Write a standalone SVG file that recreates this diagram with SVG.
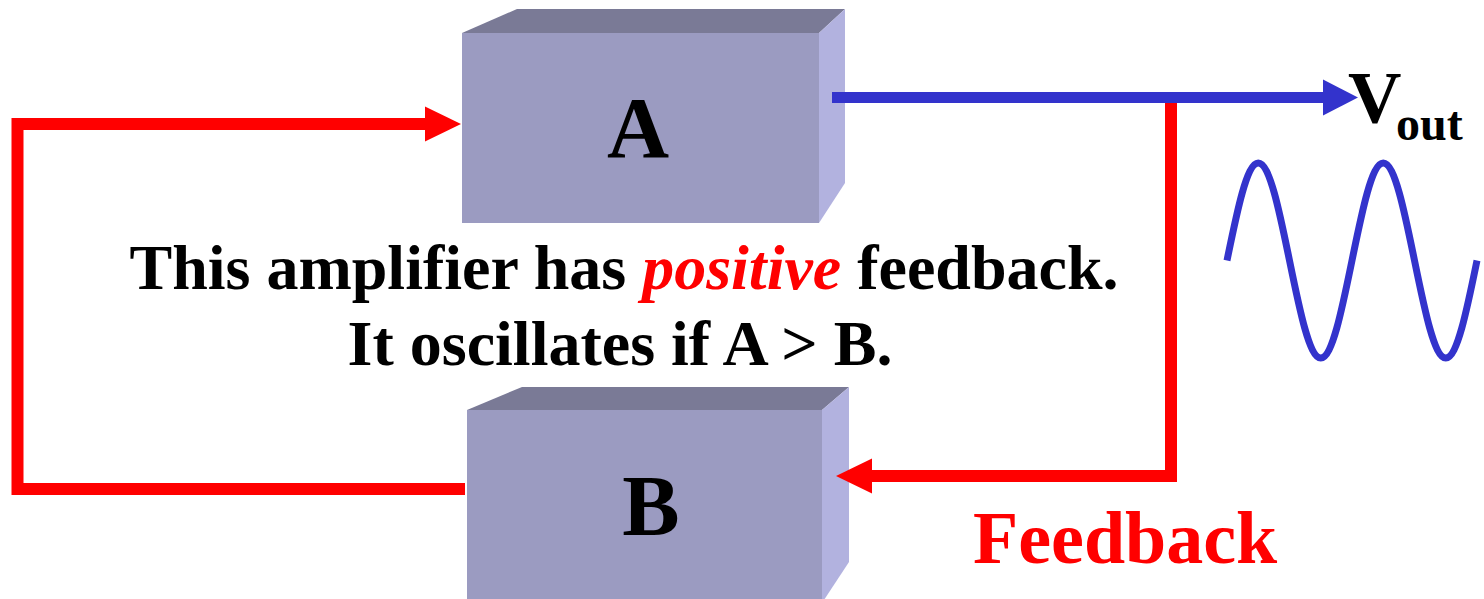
<svg xmlns="http://www.w3.org/2000/svg" width="1484" height="599" viewBox="0 0 1484 599">
<style>
.front{fill:#9B9BC1}
.top{fill:#7A7A96}
.side{fill:#B2B2DF}
.lbl{font-family:"Liberation Serif","Times New Roman",serif;font-weight:bold}
.red{stroke:#FF0000;stroke-width:12;fill:none}
.blue{stroke:#3333CC;stroke-width:11;fill:none}
</style>
<defs>
<marker id="ahr" markerUnits="userSpaceOnUse" markerWidth="36" markerHeight="36" refX="0" refY="17.5" orient="auto" overflow="visible">
<path d="M0,0 L36,17.5 L0,35 z" fill="#FF0000"/>
</marker>
<marker id="ahb" markerUnits="userSpaceOnUse" markerWidth="36" markerHeight="36" refX="0" refY="18" orient="auto" overflow="visible">
<path d="M0,0 L35,18 L0,36 z" fill="#3333CC"/>
</marker>
</defs>
<rect width="1484" height="599" fill="#FFFFFF"/>
<g id="nodeA">
<polygon class="top" points="462,33 517,9 845,9 819,33"/>
<polygon class="side" points="819,33 845,9 845,183 819,223"/>
<rect class="front" x="462" y="33" width="357" height="190"/>
<text class="lbl" x="638" y="157" font-size="86" text-anchor="middle">A</text>
</g>
<g id="nodeB">
<polygon class="top" points="467,410 522,387 849,387 822,410"/>
<polygon class="side" points="822,410 849,387 849,562 822,603"/>
<rect class="front" x="467" y="410" width="355" height="195"/>
<text class="lbl" x="651" y="535" font-size="86" text-anchor="middle">B</text>
</g>
<g id="connectors">
<path class="red" d="M465,489 H17.5 V124 H425" marker-end="url(#ahr)"/>
<path class="red" d="M1171,97 V476 H872" marker-end="url(#ahr)"/>
<path class="blue" d="M832,97.5 H1323" marker-end="url(#ahb)"/>
</g>
<g id="vout">
<text class="lbl" x="1348" y="123" font-size="74">V<tspan x="1396" y="140" font-size="48">out</tspan></text>
</g>
<g id="wave">
<path d="M1227,260.5 c10.19,-49.9 19.9,-97.5 31.25,-97.5 c11.35,0 21.06,47.6 31.25,97.5 c10.19,49.9 19.9,97.5 31.25,97.5 c11.35,0 21.06,-47.6 31.25,-97.5 c10.19,-49.9 19.9,-97.5 31.25,-97.5 c11.35,0 21.06,47.6 31.25,97.5 c10.19,49.9 19.9,97.5 31.25,97.5 c11.35,0 21.06,-47.6 31.25,-97.5" fill="none" stroke="#3333CC" stroke-width="7"/>
</g>
<g id="caption">
<text class="lbl" x="624" y="289" font-size="64" text-anchor="middle">This amplifier has <tspan fill="#FF0000" font-style="italic">positive</tspan> feedback.</text>
<text class="lbl" x="620" y="365" font-size="64" text-anchor="middle">It oscillates if A &gt; B.</text>
</g>
<g id="feedbackLabel">
<text class="lbl" x="973" y="563" font-size="74" fill="#FF0000">Feedback</text>
</g>
</svg>
